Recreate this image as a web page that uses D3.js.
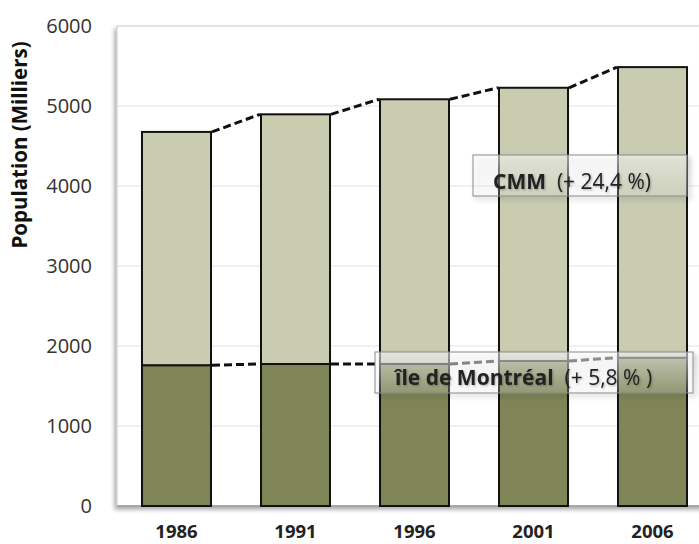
<!DOCTYPE html>
<html><head><meta charset="utf-8">
<script src="https://cdn.jsdelivr.net/npm/d3@7"></script>
<style>html,body{margin:0;padding:0;background:#fff;overflow:hidden}</style>
</head><body>
<svg id="chart" width="699" height="544"></svg>
<script>
const years = ["1986", "1991", "1996", "2001", "2006"];
const ileMontreal = [1760, 1775, 1776, 1813, 1854];
const cmm = [2916, 3121, 3308, 3415, 3632];
const yTicks = [0, 1000, 2000, 3000, 4000, 5000, 6000];
const yLabel = "Population (Milliers)";
const labelCMM = ["CMM", "  (+ 24,4 %)"];
const labelIle = ["île de Montréal", "  (+ 5,8 % )"];

const svg = d3.select("#chart");
const defs = svg.append("defs");
const sh = defs.append("filter").attr("id","sh").attr("x","-10%").attr("y","-10%").attr("width","120%").attr("height","120%");
sh.append("feDropShadow").attr("dx",-2).attr("dy",3).attr("stdDeviation",2).attr("flood-color","#000").attr("flood-opacity",0.35);
const sh2 = defs.append("filter").attr("id","sh2").attr("x","-10%").attr("y","-30%").attr("width","120%").attr("height","160%");
sh2.append("feDropShadow").attr("dx",3).attr("dy",3).attr("stdDeviation",2.5).attr("flood-color","#000").attr("flood-opacity",0.3);
const tsh = defs.append("filter").attr("id","tsh");
tsh.append("feDropShadow").attr("dx",1).attr("dy",1).attr("stdDeviation",1).attr("flood-color","#000").attr("flood-opacity",0.3);
const grad = defs.append("linearGradient").attr("id","boxg").attr("x1",0).attr("y1",0).attr("x2",0).attr("y2",1);
grad.append("stop").attr("offset","0%").attr("stop-color","#fff").attr("stop-opacity",0.55);
grad.append("stop").attr("offset","100%").attr("stop-color","#fff").attr("stop-opacity",0.15);

const x = d3.scaleBand().domain(years).range([117, 712]).paddingInner(0.42).paddingOuter(0.21);
const y = d3.scaleLinear().domain([0, 6000]).range([506, 26]);

// plot frame with shadow
svg.append("rect").attr("x",117).attr("y",26).attr("width",700).attr("height",480)
  .attr("fill","#fff").attr("stroke","#c8c8c8").attr("stroke-width",1).attr("filter","url(#sh)");

// gridlines
svg.append("g").selectAll("line").data(yTicks.filter(d=>d>0)).join("line")
  .attr("x1",117).attr("x2",699).attr("y1",d=>y(d)).attr("y2",d=>y(d))
  .attr("stroke","#e2e2e2").attr("stroke-width",1);

// baseline
svg.append("line").attr("x1",117).attr("x2",699).attr("y1",y(0)).attr("y2",y(0)).attr("stroke","#999").attr("stroke-width",1.5);

// y axis labels
const yAxis = d3.axisLeft(y).tickValues(yTicks).tickSize(0).tickPadding(0).tickFormat(d3.format("d"));
const ya = svg.append("g").attr("transform","translate(92,0)").call(yAxis);
ya.select(".domain").remove();
ya.selectAll("text").attr("font-family","'Open Sans', sans-serif").attr("font-size",20).attr("fill","#333");

// x axis labels
const xAxis = d3.axisBottom(x).tickSize(0).tickPadding(0);
const xa = svg.append("g").attr("transform","translate(0,538)").call(xAxis);
xa.select(".domain").remove();
xa.selectAll("text").attr("font-family","'Open Sans', sans-serif").attr("font-size",18.5).attr("font-weight","bold").attr("fill","#222").attr("dy",0).attr("y",0);

// y label
svg.append("text").attr("transform","translate(27,145) rotate(-90)").attr("text-anchor","middle")
  .attr("font-family","'Open Sans', sans-serif").attr("font-size",20.5).attr("font-weight","bold").attr("fill","#111").text(yLabel);

// stacked bars
const data = years.map((yr,i)=>({year:yr, ile:ileMontreal[i], cmm:cmm[i]}));
const stack = d3.stack().keys(["ile","cmm"])(data);
const colors = {ile:"#7f8557", cmm:"#c9ccb1"};
svg.append("g").selectAll("g").data(stack).join("g").attr("fill",d=>colors[d.key])
  .selectAll("rect").data(d=>d).join("rect")
  .attr("x",d=>x(d.data.year)).attr("width",x.bandwidth())
  .attr("y",d=>y(d[1])).attr("height",d=>y(d[0])-y(d[1]))
  .attr("stroke","#111").attr("stroke-width",2);

// dashed connectors
stack.forEach(s=>{
  const segs = d3.pairs(s);
  svg.append("g").selectAll("line").data(segs).join("line")
    .attr("x1",d=>x(d[0].data.year)+x.bandwidth()+1).attr("y1",d=>y(d[0][1]))
    .attr("x2",d=>x(d[1].data.year)-1).attr("y2",d=>y(d[1][1]))
    .attr("stroke","#111").attr("stroke-width",3).attr("stroke-dasharray","8,4");
});

// label boxes
function labelBox(x0, y0, w, h, parts, tx, ty){
  const g = svg.append("g");
  g.append("rect").attr("x",x0).attr("y",y0).attr("width",w).attr("height",h)
    .attr("fill","url(#boxg)").attr("stroke","#8a8a8a").attr("stroke-width",1).attr("filter","url(#sh2)");
  const t = g.append("text").attr("x",tx).attr("y",ty).attr("font-family","'Open Sans', sans-serif")
    .attr("font-size",21).attr("fill","#222").attr("filter","url(#tsh)").attr("xml:space","preserve").style("white-space","pre");
  t.append("tspan").attr("font-weight","bold").text(parts[0]);
  t.append("tspan").text(parts[1]);
}
labelBox(473, 155, 214, 41, labelCMM, 493, 189);
labelBox(375, 352, 318, 41, labelIle, 395, 385);
</script>
</body></html>
